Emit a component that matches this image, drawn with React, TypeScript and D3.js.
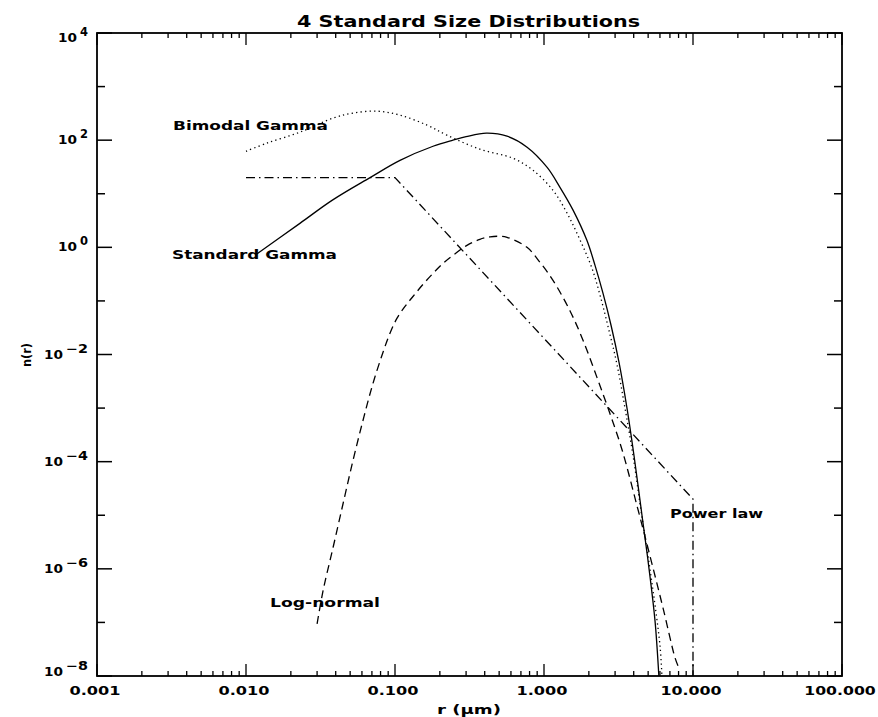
import React from "react";
import * as d3 from "d3";

// ---- data ----
const xTickValues = [0.001, 0.01, 0.1, 1, 10, 100];
const xTickLabels = ["0.001", "0.010", "0.100", "1.000", "10.000", "100.000"];
const yLabelExponents = [4, 2, 0, -2, -4, -6, -8];

const standardGammaR = [0.0115, 0.023, 0.038, 0.068, 0.108, 0.18, 0.245, 0.30, 0.41, 0.565, 0.77, 1.05, 1.28, 1.57, 1.94, 2.20, 2.49, 2.82, 3.19, 3.61, 4.02, 4.55, 5.07, 5.56, 5.9];
const standardGammaN = [0.71, 2.8, 7.6, 20, 42, 77, 100, 116, 135, 119, 74, 31, 13.2, 4.9, 1.35, 0.461, 0.138, 0.0348, 0.00708, 9.8e-4, 1.29e-4, 9.8e-6, 1.0e-6, 1.07e-7, 1e-8];

const bimodalGammaR = [0.01, 0.0138, 0.023, 0.0384, 0.0522, 0.0757, 0.108, 0.164, 0.223, 0.371, 0.619, 0.843, 1.149, 1.43, 1.75, 2.10, 2.41, 2.73, 3.09, 3.50, 3.96, 4.48, 5.07, 5.65, 6.01, 6.19];
const bimodalGammaN = [62, 88, 141, 258, 320, 348, 293, 191, 124, 68, 46, 27.5, 11.6, 4.32, 1.35, 0.405, 0.111, 0.0281, 0.0065, 9.8e-4, 1.29e-4, 1.21e-5, 1.29e-6, 1.5e-7, 3.6e-8, 1e-8];

const logNormalR = [0.030, 0.0329, 0.0384, 0.0448, 0.0522, 0.0609, 0.0711, 0.083, 0.0924, 0.103, 0.1167, 0.132, 0.154, 0.18, 0.21, 0.245, 0.304, 0.371, 0.435, 0.507, 0.565, 0.769, 0.94, 1.149, 1.49, 1.83, 2.27, 2.77, 3.34, 4.21, 5.14, 6.29, 7.57, 7.93];
const logNormalN = [9.4e-8, 3.9e-7, 2.5e-6, 1.64e-5, 1.04e-4, 5.8e-4, 2.87e-3, 0.0109, 0.0247, 0.0471, 0.0789, 0.121, 0.203, 0.327, 0.502, 0.708, 1.09, 1.41, 1.57, 1.61, 1.54, 1.0, 0.525, 0.242, 0.0664, 0.0183, 3.7e-3, 7.9e-4, 1.67e-4, 1.5e-5, 1.75e-6, 1.87e-7, 2.2e-8, 1.55e-8];

const powerLawR = [0.01, 0.1, 10, 10];
const powerLawN = [20, 20, 2e-5, 1e-8];

const seriesLabels = ["Bimodal Gamma", "Standard Gamma", "Log-normal", "Power law"];

// ---- layout ----
const W = 878;
const H = 717;
const L = 97, R = 842, T = 33, B = 676;
const FONT = "'DejaVu Sans', sans-serif";

export default function App() {
  const x = d3.scaleLog().domain([0.001, 100]).range([L, R]);
  const y = d3.scaleLog().domain([1e-8, 1e4]).range([B, T]);

  const zip = (rs: number[], ns: number[]) => rs.map((r, i) => [r, ns[i]] as [number, number]);
  const smooth = d3.line<[number, number]>().x(d => x(d[0])).y(d => y(d[1])).curve(d3.curveCatmullRom.alpha(0.5));
  const straight = d3.line<[number, number]>().x(d => x(d[0])).y(d => y(d[1]));

  const xMinor = x.ticks();
  const isPow10 = (v: number) => Math.abs(Math.log10(v) - Math.round(Math.log10(v))) < 1e-9;
  const yDecades = d3.range(-8, 5).map(e => Math.pow(10, e));

  const curveStyle = { fill: "none", stroke: "#000", strokeWidth: 1.3 };

  return (
    <div style={{ position: "fixed", left: 0, top: 0 }}>
      <svg width={W} height={H} viewBox={`0 0 ${W} ${H}`} style={{ display: "block", background: "#fff" }} fontFamily={FONT} fontWeight="bold">
        <defs>
          <clipPath id="plotclip">
            <rect x={L} y={T - 1} width={R - L} height={B - T + 2} />
          </clipPath>
        </defs>
        <rect x={0} y={0} width={W} height={H} fill="#fff" />

        {/* title */}
        <text x={468.5} y={27} textAnchor="middle" fontSize={15} textLength={343} lengthAdjust="spacingAndGlyphs">4 Standard Size Distributions</text>

        {/* curves */}
        <g clipPath="url(#plotclip)">
          <path d={smooth(zip(standardGammaR, standardGammaN)) || ""} {...curveStyle} />
          <path d={smooth(zip(bimodalGammaR, bimodalGammaN)) || ""} {...curveStyle} strokeDasharray="1.3 3.2" />
          <path d={smooth(zip(logNormalR, logNormalN)) || ""} {...curveStyle} strokeDasharray="8 5" />
          <path d={straight(zip(powerLawR, powerLawN)) || ""} {...curveStyle} strokeDasharray="9 4 1.5 4" />
        </g>

        {/* frame */}
        <rect x={L} y={T} width={R - L} height={B - T} fill="none" stroke="#000" strokeWidth={1.8} />

        {/* x ticks bottom & top */}
        {xMinor.map((v, i) => {
          const px = x(v);
          const len = isPow10(v) ? 12 : 5;
          return (
            <g key={"xt" + i} stroke="#000" strokeWidth={1.3}>
              <line x1={px} x2={px} y1={B} y2={B - len} />
              <line x1={px} x2={px} y1={T} y2={T + len} />
            </g>
          );
        })}

        {/* y ticks left & right */}
        {yDecades.map((v, i) => {
          const py = y(v);
          const e = Math.round(Math.log10(v));
          const len = e % 2 === 0 ? 15 : 8;
          return (
            <g key={"yt" + i} stroke="#000" strokeWidth={1.5}>
              <line x1={L} x2={L + len} y1={py} y2={py} />
              <line x1={R} x2={R - len} y1={py} y2={py} />
            </g>
          );
        })}

        {/* x tick labels */}
        {xTickValues.map((v, i) => (
          <text key={"xl" + i} x={x(v) - 2} y={695} textAnchor="middle" fontSize={12}
            textLength={xTickLabels[i].length * 10.2} lengthAdjust="spacingAndGlyphs">{xTickLabels[i]}</text>
        ))}

        {/* y tick labels: "10" + superscript exponent */}
        {yLabelExponents.map((e, i) => {
          const py = y(Math.pow(10, e));
          const off = e === 4 ? 9 : e === -8 ? 0 : 4;
          const neg = e < 0;
          const expStr = neg ? "\u2212" + Math.abs(e) : String(e);
          const supW = neg ? 22 : 8;
          return (
            <g key={"yl" + i}>
              <text x={88} y={py + off - 6} textAnchor="end" fontSize={11.5}
                textLength={supW} lengthAdjust="spacingAndGlyphs">{expStr}</text>
              <text x={88 - supW - 3} y={py + off} textAnchor="end" fontSize={11.5}
                textLength={19} lengthAdjust="spacingAndGlyphs">10</text>
            </g>
          );
        })}

        {/* axis titles */}
        <text x={469} y={714} textAnchor="middle" fontSize={12} textLength={64} lengthAdjust="spacingAndGlyphs">r (μm)</text>
        <text transform="translate(31,355) rotate(-90)" textAnchor="middle" fontSize={13} textLength={24} lengthAdjust="spacingAndGlyphs">n(r)</text>

        {/* series labels */}
        <text x={173} y={130} fontSize={12} textLength={155} lengthAdjust="spacingAndGlyphs">{seriesLabels[0]}</text>
        <text x={172} y={259} fontSize={12} textLength={165} lengthAdjust="spacingAndGlyphs">{seriesLabels[1]}</text>
        <text x={270} y={607} fontSize={12} textLength={110} lengthAdjust="spacingAndGlyphs">{seriesLabels[2]}</text>
        <text x={670} y={518} fontSize={12} textLength={93} lengthAdjust="spacingAndGlyphs">{seriesLabels[3]}</text>
      </svg>
    </div>
  );
}
